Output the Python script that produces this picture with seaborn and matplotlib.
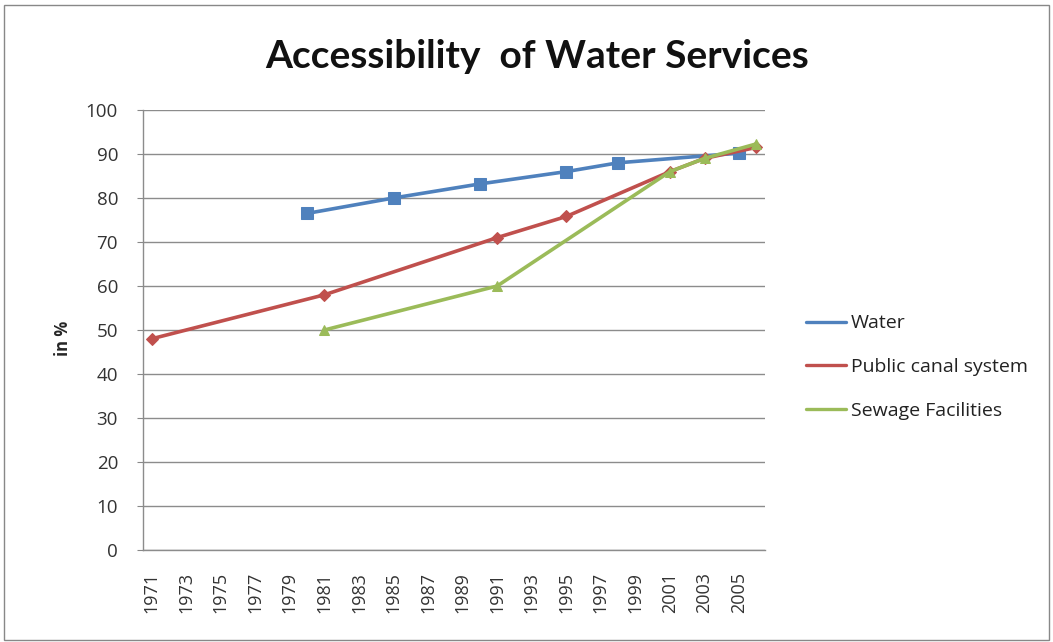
import numpy as np
import pandas as pd
import matplotlib
matplotlib.use("Agg")
import matplotlib.pyplot as plt
import seaborn as sns
from matplotlib.lines import Line2D
from matplotlib.patches import Rectangle

# Survey years and coverage (%) for each service
water_years = [1980, 1985, 1990, 1995, 1998, 2005]
water_vals = [76.5, 80, 83.2, 86, 88, 90.2]

canal_years = [1971, 1981, 1991, 1995, 2001, 2003, 2006]
canal_vals = [48, 58, 71, 75.8, 86, 89, 91.5]

sewage_years = [1981, 1991, 2001, 2003, 2006]
sewage_vals = [50, 60, 86, 89, 92.3]

series_names = ["Water", "Public canal system", "Sewage Facilities"]
tick_years = list(range(1971, 2006, 2))
y_ticks = list(range(0, 101, 10))

colors = ["#4F81BD", "#C0504D", "#9BBB59"]
markers = ["s", "D", "^"]
msizes = [8, 6, 7]

sns.set_style("white")
plt.rcParams["font.family"] = ["Open Sans", "DejaVu Sans"]

fig = plt.figure(figsize=(10.53, 6.42), dpi=100)
ax = fig.add_axes([143 / 1053, 1 - 550 / 642, 622 / 1053, 440 / 642])

frames = [
    pd.DataFrame({"year": water_years, "value": water_vals}),
    pd.DataFrame({"year": canal_years, "value": canal_vals}),
    pd.DataFrame({"year": sewage_years, "value": sewage_vals}),
]
for df, c, m, ms in zip(frames, colors, markers, msizes):
    sns.lineplot(data=df, x="year", y="value", ax=ax, color=c, linewidth=2.6,
                 marker=m, markersize=ms, markeredgecolor=c, markerfacecolor=c,
                 zorder=3)

ax.set_xlim(1970.5, 2006.5)
ax.set_ylim(0, 100)
ax.set_yticks(y_ticks)
ax.set_xticks(tick_years)
ax.set_xticklabels([str(y) for y in tick_years], rotation=90, fontsize=13,
                   color="#333333")
ax.set_yticklabels([str(v) for v in y_ticks], fontsize=13.5, color="#333333")
ax.tick_params(axis="x", length=0, pad=16)
ax.tick_params(axis="y", length=4, width=0.8, color="#888888", left=True,
               pad=14)
ax.set_xlabel("")
ax.set_ylabel("in %", fontsize=12, fontweight="bold")
ax.yaxis.set_label_coords(-0.114, 0.48)
ax.yaxis.grid(True, color="#8C8C8C", linewidth=1.0)
ax.xaxis.grid(False)
for side in ["top", "right"]:
    ax.spines[side].set_visible(False)
for side in ["left", "bottom"]:
    ax.spines[side].set_color("#8C8C8C")
    ax.spines[side].set_linewidth(1.0)

fig.suptitle("Accessibility  of Water Services", x=537 / 1053, y=1 - 57 / 642,
             va="center", fontsize=28, fontweight="bold", color="#111111",
             family=["Lato", "DejaVu Sans"])

handles = [Line2D([0], [0], color=c, linewidth=2.4) for c in colors]
fig.legend(handles, series_names, loc="upper left",
           bbox_to_anchor=(788 / 1053, 1 - 297 / 642), frameon=False,
           fontsize=14, handlelength=2.1, handletextpad=0.25,
           labelspacing=1.32, labelcolor="#222222")

fig.patches.append(Rectangle((4 / 1053, 2 / 642), 1045 / 1053, 635 / 642,
                             transform=fig.transFigure, fill=False,
                             edgecolor="#888888", linewidth=1.0))

fig.savefig("out.png", dpi=100)
